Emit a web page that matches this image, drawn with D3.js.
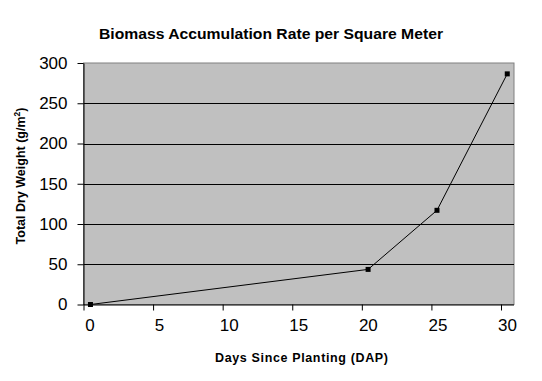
<!DOCTYPE html>
<html><head><meta charset="utf-8">
<script src="https://cdn.jsdelivr.net/npm/d3@7"></script>
<style>body{margin:0;background:#fff}svg{display:block}</style>
</head><body>
<script>
const title = "Biomass Accumulation Rate per Square Meter";
const xTitle = "Days Since Planting (DAP)";
const days = [0.5, 20.45, 25.4, 30.45];
const weight = [0, 43.6, 117, 286.5];
const xTicks = [0, 5, 10, 15, 20, 25, 30];
const yTicks = [0, 50, 100, 150, 200, 250, 300];

const W = 542, H = 381;
const L = 83.5, R = 514, T = 63, B = 304.5;
const svg = d3.select("body").append("svg").attr("width", W).attr("height", H);
const font = "'Liberation Sans', Arial, sans-serif";

const x = d3.scaleLinear().domain([0, 30]).range([L, 501]);
const y = d3.scaleLinear().domain([0, 300]).range([B, T]);

svg.append("rect").attr("x", L).attr("y", T).attr("width", R - L).attr("height", B - T)
  .attr("fill", "#c0c0c0").attr("stroke", "#808080").attr("stroke-width", 1);

// gridlines
svg.append("g").selectAll("line").data(yTicks.filter(d => d > 0 && d < 300)).join("line")
  .attr("x1", L).attr("x2", R).attr("y1", d => Math.round(y(d)) + 0.5).attr("y2", d => Math.round(y(d)) + 0.5)
  .attr("stroke", "#000").attr("stroke-width", 1);

// y axis
const yAxis = svg.append("g").attr("transform", `translate(${L},0)`)
  .call(d3.axisLeft(y).tickValues(yTicks).tickSize(6).tickPadding(10).tickSizeOuter(0));
yAxis.select(".domain").attr("stroke", "#000");
yAxis.selectAll("text").attr("font-family", font).attr("font-size", 17).attr("fill", "#000");

// x axis
const xAxis = svg.append("g").attr("transform", `translate(0,${B})`)
  .call(d3.axisBottom(x).tickValues(xTicks).tickSize(6).tickPadding(8).tickSizeOuter(0));
xAxis.select(".domain").attr("d", `M${L},0.5H${R}`).attr("stroke", "#000");
xAxis.selectAll("text").attr("font-family", font).attr("font-size", 17).attr("fill", "#000").attr("dx", 6);

// line
svg.append("path").datum(days.map((d, i) => [d, weight[i]]))
  .attr("d", d3.line().x(d => x(d[0])).y(d => y(d[1])))
  .attr("fill", "none").attr("stroke", "#000").attr("stroke-width", 1);
svg.append("g").selectAll("rect").data(days.map((d, i) => [d, weight[i]])).join("rect")
  .attr("x", d => x(d[0]) - 2.5).attr("y", d => y(d[1]) - 2.5).attr("width", 5).attr("height", 5)
  .attr("fill", "#000");

// titles
svg.append("text").attr("x", 271).attr("y", 39).attr("text-anchor", "middle")
  .attr("font-family", font).attr("font-weight", "bold").attr("font-size", 15.5)
  .attr("textLength", 344).attr("lengthAdjust", "spacingAndGlyphs").text(title);
svg.append("text").attr("x", 301.5).attr("y", 362).attr("text-anchor", "middle")
  .attr("font-family", font).attr("font-weight", "bold").attr("font-size", 12.5)
  .attr("textLength", 173).text(xTitle);
const yt = svg.append("text").attr("transform", "translate(25,176) rotate(-90)")
  .attr("text-anchor", "middle").attr("font-family", font).attr("font-weight", "bold").attr("font-size", 12.5);
yt.append("tspan").text("Total Dry Weight (g/m");
yt.append("tspan").attr("font-size", 8.5).attr("dy", -5).text("2");
yt.append("tspan").attr("dy", 5).text(")");
</script>
</body></html>
